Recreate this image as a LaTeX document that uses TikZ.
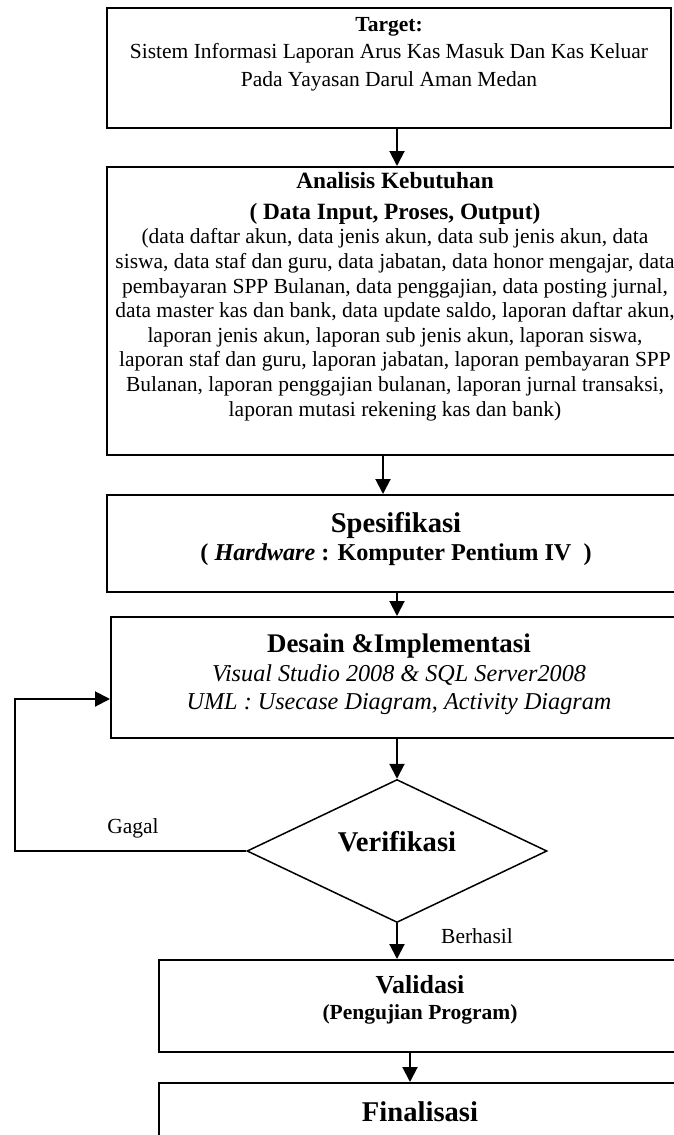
\documentclass[tikz,border=0pt]{standalone}
\usepackage{fontspec}
\setmainfont{Liberation Serif}
\usepackage{tikz}
\usetikzlibrary{positioning,shapes.geometric,arrows.meta}

\begin{document}
\begin{tikzpicture}[x=1pt, y=-1pt,
    >={Triangle[length=15pt,width=15pt]},
    kotak/.style={draw, line width=2pt, inner sep=0pt},
    isi/.style={inner sep=0pt, align=center},
    ket/.style={inner sep=0pt, font=\fontsize{21.5}{24.6}\selectfont},
    ]
\useasboundingbox (0,0) rectangle (673,1135);

% kotak-kotak tahapan
\node[kotak, minimum width=564pt, minimum height=120pt] (target)      at (389,68)   {};
\node[kotak, minimum width=576pt, minimum height=288pt] (analisis)    at (395,311)  {};
\node[kotak, minimum width=578pt, minimum height=97pt]  (spesifikasi) at (396,543.5) {};
\node[kotak, minimum width=576pt, minimum height=121pt] (desain)      at (399,677.5) {};
\node[draw, diamond, line width=1.5pt, minimum width=300pt, minimum height=143pt,
      inner sep=0pt, text height=0pt, text depth=0pt,
      font=\fontsize{28.6}{30}\selectfont\bfseries]    (verif)       at (397,851)  {Verifikasi};
\node[kotak, minimum width=522pt, minimum height=92pt]  (validasi)    at (420,1006) {};
\node[kotak, minimum width=522pt, minimum height=92pt]  (finalisasi)  at (420,1129) {};

% isi kotak
\node[isi, below=10pt of target.north, font=\fontsize{21.5}{27.5}\selectfont] (targetisi)
    {\textbf{Target:}\\
     Sistem Informasi Laporan Arus Kas Masuk Dan Kas Keluar\\
     Pada Yayasan Darul Aman Medan};
\node[isi, below=6pt of analisis.north, font=\fontsize{21.5}{24.6}\selectfont] (analisisisi)
    {{\fontsize{23.3}{24.6}\selectfont\bfseries Analisis Kebutuhan}\\[6.4pt]
     {\fontsize{23.3}{24.6}\selectfont\bfseries ( Data Input, Proses, Output)}\\
     (data daftar akun, data jenis akun, data sub jenis akun, data\\
     siswa, data staf dan guru, data jabatan, data honor mengajar, data\\
     pembayaran SPP Bulanan, data penggajian, data posting jurnal,\\
     data master kas dan bank, data update saldo, laporan daftar akun,\\
     laporan jenis akun, laporan sub jenis akun, laporan siswa,\\
     laporan staf dan guru, laporan jabatan, laporan pembayaran SPP\\
     Bulanan, laporan penggajian bulanan, laporan jurnal transaksi,\\
     laporan mutasi rekening kas dan bank)};
\node[isi, below=18pt of spesifikasi.north, font=\fontsize{24.2}{28}\selectfont\bfseries] (spesisi)
    {{\fontsize{28.6}{28}\selectfont Spesifikasi}\\
     ( \textit{Hardware} : Komputer Pentium IV\ \ )};
\node[isi, below=18pt of desain.north, font=\fontsize{24.2}{28.5}\selectfont\itshape] (desainisi)
    {{\fontsize{26.9}{28.5}\selectfont\upshape\bfseries Desain \&Implementasi}\\
     Visual Studio 2008 \& SQL Server2008\\
     UML : Usecase Diagram, Activity Diagram};
\node[isi, below=16pt of validasi.north, font=\fontsize{21.5}{26}\selectfont\bfseries] (validasiisi)
    {{\fontsize{26}{26}\selectfont Validasi}\\
     (Pengujian Program)};
\node[isi, below=19pt of finalisasi.north, font=\fontsize{28.6}{30}\selectfont\bfseries] (finalisasiisi)
    {Finalisasi};

% keterangan cabang
\node[ket] (gagal)    at (133,828) {Gagal};
\node[ket] (berhasil) at (477,936) {Berhasil};

% alur
\path[->, line width=2pt]
    (target.south -| verif)        edge (analisis.north -| verif)
    ([xshift=-12pt]analisis.south) edge ([xshift=-13pt]spesifikasi.north)
    (spesifikasi.south -| verif)   edge (desain.north -| verif)
    (desain.south -| verif)        edge (verif.north)
    (verif.south)                  edge (validasi.north -| verif)
    ([xshift=-10pt]validasi.south) edge ([xshift=-10pt]finalisasi.north);

\coordinate (balik) at (15,699);
\draw[->, line width=2pt] (verif.west) -| (balik) -- (balik -| desain.west);
\end{tikzpicture}
\end{document}
